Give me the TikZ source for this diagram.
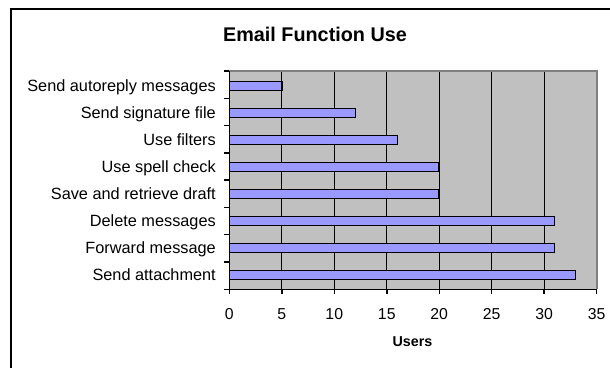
\documentclass[tikz,border=0pt]{standalone}
\usepackage{fontspec}
\setmainfont{Liberation Sans}
\definecolor{barblue}{HTML}{9999FF}
\definecolor{plotgray}{HTML}{C0C0C0}
\definecolor{bordergray}{HTML}{808080}
\begin{document}
\begin{tikzpicture}[x=1pt,y=-1pt,
  catlabel/.style={anchor=base east, font=\fontsize{16.3}{18}\selectfont, inner sep=0pt},
  ticklabel/.style={anchor=base, font=\fontsize{15.8}{18}\selectfont, inner sep=0pt},
  titlelabel/.style={anchor=base, font=\fontsize{19.8}{22}\selectfont\bfseries, inner sep=0pt},
  axislabel/.style={anchor=base, font=\fontsize{14.3}{17}\selectfont\bfseries, inner sep=0pt},
  barbox/.style={draw=black, line width=1.5pt, fill=barblue},
  gridline/.style={line width=0.9pt, black},
  axisline/.style={line width=1.5pt, black},
  frameline/.style={line width=2pt, black}]
\useasboundingbox (0,0) rectangle (610,367);
\fill[white] (0,0) rectangle (610,367);
% outer frame (only left and top edges visible)
\coordinate (fbl) at (11,368);
\coordinate (ftl) at (11,9);
\coordinate (ftr) at (611,9);
\draw[frameline] (fbl) -- (ftl) -- (ftr);
% plot area
\coordinate (po) at (229.3,289.3);
\coordinate (ptl) at (229.3,71);
\coordinate (ptr) at (596.7,71);
\coordinate (pbr) at (596.7,289.3);
\fill[plotgray] (ptl) rectangle (pbr);
\foreach \k in {1,...,6}
  \draw[gridline] ({229.3+52.486*\k},71) -- ({229.3+52.486*\k},289.3);
\draw[line width=1.6pt, bordergray] (ptl) -- (ptr) -- (pbr);
% bars
\foreach \v [count=\i from 0] in {5,12,16,20,20,31,31,33}
  \draw[barbox] (229.3,{86+27*\i-4.7}) rectangle ({229.3+10.497*\v},{86+27*\i+4.7});
% axes
\draw[axisline] (ptl) -- (po) -- (pbr);
\foreach \j in {0,...,8}
  \draw[axisline] (224,{71+27.29*\j}) -- (229.3,{71+27.29*\j});
\foreach \k in {0,...,7}
  \draw[axisline] ({229.3+52.486*\k},289.3) -- ({229.3+52.486*\k},294);
% category labels
\foreach \t [count=\i from 0] in {Send autoreply messages,Send signature file,Use filters,Use spell check,Save and retrieve draft,Delete messages,Forward message,Send attachment}
  \node[catlabel] (c\i) at (216,{86+27*\i+5.5}) {\t};
% tick labels
\foreach \n [count=\k from 0] in {0,5,10,15,20,25,30,35}
  \node[ticklabel] (t\k) at ({229.3+52.486*\k},319) {\n};
% title and axis label
\node[titlelabel] (title) at (315,41) {Email Function Use};
\node[axislabel] (users) at (412.5,346.8) {Users};
\end{tikzpicture}
\end{document}
